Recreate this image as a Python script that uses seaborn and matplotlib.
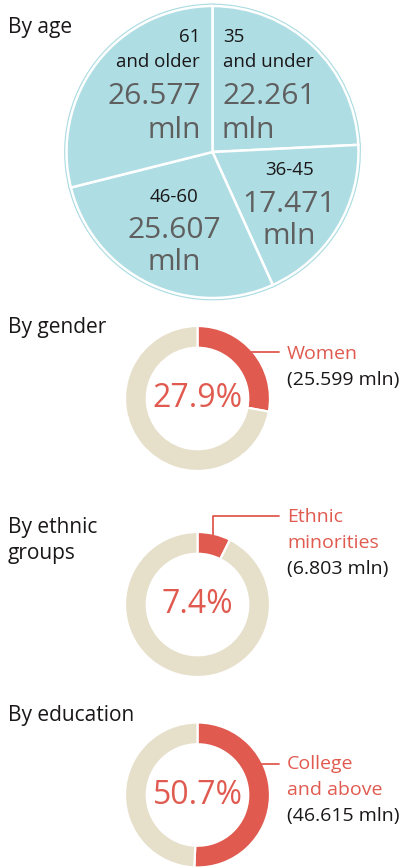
import numpy as np
import matplotlib
matplotlib.use("Agg")
import matplotlib.pyplot as plt
import seaborn as sns

# data
age_groups = ["35\nand under", "36-45", "46-60", "61\nand older"]
age_values = [22.261, 17.471, 25.607, 26.577]

gender_share = [27.9, 72.1]
gender_label = ["Women", "(25.599 mln)"]

ethnic_share = [7.4, 92.6]
ethnic_label = ["Ethnic\nminorities", "(6.803 mln)"]

education_share = [50.7, 49.3]
education_label = ["College\nand above", "(46.615 mln)"]

sns.set_theme(style="white")
plt.rcParams["font.family"] = ["Open Sans", "DejaVu Sans"]

blue = "#aedde3"
red = "#e05a4f"
beige = "#e6dfca"
grey = "#5f5f5f"
ink = "#1a1718"

W, H = 405, 868
fig = plt.figure(figsize=(W / 100, H / 100), dpi=100)
fig.patch.set_facecolor("white")

PAD = 1.04


def box(cx, cy, r):
    r = r * PAD
    return [(cx - r) / W, 1 - (cy + r) / H, 2 * r / W, 2 * r / H]


def put(x, y, s, **kw):
    fig.text(x / W, 1 - y / H, s, **kw)


def fix(ax):
    ax.set_xlim(-PAD, PAD)
    ax.set_ylim(-PAD, PAD)
    ax.set_aspect("equal")
    ax.axis("off")


# ---- by age ----
ax = fig.add_axes(box(212.5, 152, 146))
ax.pie(age_values, colors=[blue] * 4, startangle=90, counterclock=False,
       wedgeprops=dict(edgecolor="#a9dbe1", linewidth=3.4))
ax.pie(age_values, colors=[blue] * 4, startangle=90, counterclock=False,
       wedgeprops=dict(edgecolor="white", linewidth=1.8))
fix(ax)

put(8, 27, "By age", fontsize=15, color=ink, va="center")

lab = dict(fontsize=13.5, color=ink, va="center")
big = dict(fontsize=21.5, color=grey, va="center")
# 35 and under
put(223, 37, age_groups[0].split("\n")[0], ha="left", **lab)
put(223, 62, age_groups[0].split("\n")[1], ha="left", **lab)
put(222, 96, f"{age_values[0]:.3f}", ha="left", **big)
put(222, 130, "mln", ha="left", **big)
# 36-45
put(290, 170, age_groups[1], ha="center", **lab)
put(289, 204, f"{age_values[1]:.3f}", ha="center", **big)
put(289, 237, "mln", ha="center", **big)
# 46-60
put(174, 197, age_groups[2], ha="center", **lab)
put(174, 230, f"{age_values[2]:.3f}", ha="center", **big)
put(174, 263, "mln", ha="center", **big)
# 61 and older
put(200, 37, age_groups[3].split("\n")[0], ha="right", **lab)
put(200, 62, age_groups[3].split("\n")[1], ha="right", **lab)
put(201, 96, f"{age_values[3]:.3f}", ha="right", **big)
put(201, 130, "mln", ha="right", **big)


# ---- donuts ----
def donut(cy, share, title_lines, title_y, label, label_y, line_pts):
    ax = fig.add_axes(box(197.5, cy, 72.5))
    ax.pie(share, colors=[red, beige], startangle=90, counterclock=False,
           wedgeprops=dict(width=0.3, edgecolor="white", linewidth=1.6))
    fix(ax)
    put(197.5, cy, f"{share[0]:.1f}%", fontsize=23, color=red,
        ha="center", va="center")
    for i, t in enumerate(title_lines):
        put(8, title_y + i * 26, t, fontsize=15, color=ink, va="center")
    red_lines = label[0].split("\n")
    for i, t in enumerate(red_lines):
        put(287, label_y + i * 26, t, fontsize=14, color=red, va="center")
    put(287, label_y + len(red_lines) * 26, label[1], fontsize=14,
        color=ink, va="center")
    xs = [p[0] / W for p in line_pts]
    ys = [1 - p[1] / H for p in line_pts]
    fig.add_artist(plt.Line2D(xs, ys, color=red, linewidth=1.3))


donut(398.5, gender_share, ["By gender"], 328, gender_label, 354,
      [(243, 352), (279, 352)])
donut(604.5, ethnic_share, ["By ethnic", "groups"], 527, ethnic_label, 517,
      [(213, 537), (213, 516), (279, 516)])
donut(795, education_share, ["By education"], 715, education_label, 764,
      [(259, 764), (279, 764)])

fig.savefig("out.png", dpi=100)
